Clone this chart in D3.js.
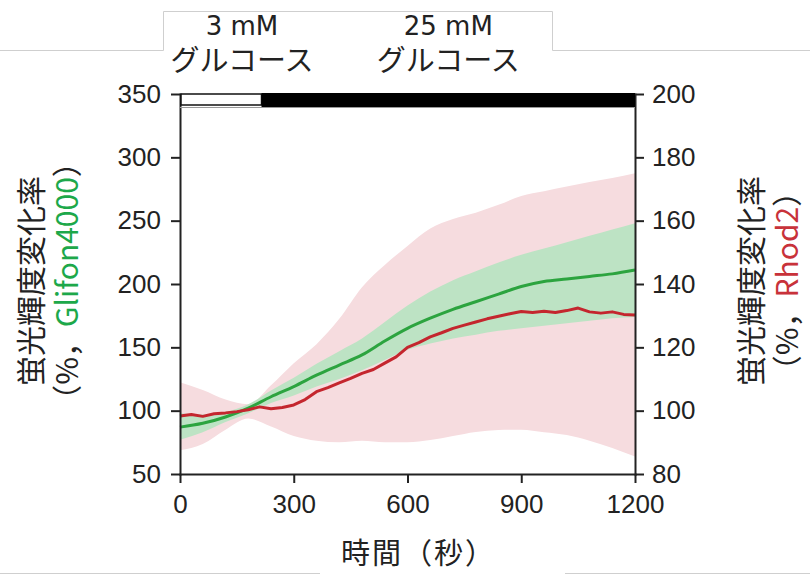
<!DOCTYPE html>
<html>
<head>
<meta charset="utf-8">
<script src="https://cdn.jsdelivr.net/npm/d3@7"></script>
<style>
body{margin:0;background:#fff;}
svg{display:block;}
.axis .tick text{font-family:"Liberation Sans",Arial,sans-serif;font-size:26px;fill:#222;}
.axis path,.axis line{stroke:#222;stroke-width:2;}
.jp{font-family:"Noto Sans CJK JP",sans-serif;fill:#222;}
.lat{font-family:"DejaVu Sans",sans-serif;fill:#222;}
</style>
</head>
<body>
<svg id="chart" width="810" height="576"></svg>
<script>
// time grid (s) for the bands and the Glifon4000 mean
const bandTime = [0, 60, 120, 180, 240, 300, 360, 420, 480, 540, 600, 660, 720, 780, 840, 900, 960, 1020, 1080, 1140, 1200];

// Glifon4000 (left axis, %)
const glifonMean  = [87, 90, 95, 102, 111, 119, 128, 136, 144, 155, 165, 173, 180, 186, 192, 198, 202, 204, 206, 208, 211];
const glifonUpper = [98, 97, 99, 105, 116, 126, 137, 147, 157, 170, 183, 194, 203, 210, 217, 223, 228, 233, 238, 243, 248];
const glifonLower = [77, 83, 91, 98, 106, 112, 119, 125, 132, 140, 148, 153, 157, 160, 163, 165, 167, 169, 171, 173, 174];

// Rhod2 band (right axis, %)
const rhodUpper = [109, 106.5, 103.5, 102, 108, 115, 121, 129, 139, 146, 152, 157.5, 160.5, 162.5, 165, 167.8, 169.3, 170.8, 172.2, 173.5, 175];
const rhodLower = [87.5, 89.5, 94, 97.5, 95, 92, 90.5, 90, 90.5, 90, 90, 90.7, 92, 93.3, 93.9, 94, 93.2, 92.3, 90.5, 88.2, 85.5];

// Rhod2 mean, finer grid
const rhodTime = [0, 30, 60, 90, 120, 150, 180, 210, 240, 270, 300, 330, 360, 390, 420, 450, 480, 510, 540, 570, 600,
                  630, 660, 690, 720, 750, 780, 810, 840, 870, 900, 930, 960, 990, 1020, 1050, 1080, 1110, 1140, 1170, 1200];
const rhodMean = [98.3, 98.8, 98.2, 99.0, 99.3, 99.7, 100.3, 101.2, 100.6, 101.0, 101.8, 103.5, 106.0, 107.3, 108.8, 110.2, 111.8, 113.0, 115.0, 117.0, 120.0,
                  121.5, 123.3, 124.6, 126.0, 127.0, 128.0, 129.0, 129.8, 130.6, 131.3, 131.0, 131.4, 131.0, 131.6, 132.4, 131.2, 130.8, 131.2, 130.4, 130.2];

// ticks
const xTicks = [0, 300, 600, 900, 1200];
const leftTicks = [50, 100, 150, 200, 250, 300, 350];
const rightTicks = [80, 100, 120, 140, 160, 180, 200];

// glucose condition bar
const glucoseLabels = ["3 mM", "25 mM"];
const glucoseStart = [0, 215];
const glucoseEnd = [215, 1200];

const svg = d3.select('#chart');

let x = d3.scaleLinear().domain([0, 1200]).range([180, 635]);
let yL = d3.scaleLinear().domain([50, 350]).range([474, 94]);
let yR = d3.scaleLinear().domain([80, 200]).range([474, 94]);

// faint edges of the pasted picture
const edge = svg.append('g').attr('stroke', '#cfcfcf').attr('fill', 'none').attr('stroke-width', 1);
edge.append('path').attr('d', 'M0,50.5H163.5V11.5H552.5V50.5H810');
edge.append('path').attr('d', 'M0,573.5H320M565,573.5H810');

//bands
let rhodBand = bandTime.map((t, i) => ({t: t, hi: rhodUpper[i], lo: rhodLower[i]}));
let glifonBand = bandTime.map((t, i) => ({t: t, hi: glifonUpper[i], lo: glifonLower[i]}));

svg.append('path')
    .datum(rhodBand)
    .attr('fill', '#f6dcdf')
    .attr('d', d3.area().curve(d3.curveMonotoneX)
        .x(d => x(d.t)).y0(d => yR(d.lo)).y1(d => yR(d.hi)));

svg.append('path')
    .datum(glifonBand)
    .attr('fill', '#bde3c4')
    .attr('d', d3.area().curve(d3.curveMonotoneX)
        .x(d => x(d.t)).y0(d => yL(d.lo)).y1(d => yL(d.hi)));

//lines
svg.append('path')
    .datum(bandTime.map((t, i) => [t, glifonMean[i]]))
    .attr('fill', 'none')
    .attr('stroke', '#2ca43f')
    .attr('stroke-width', 3)
    .attr('d', d3.line().curve(d3.curveMonotoneX).x(d => x(d[0])).y(d => yL(d[1])));

svg.append('path')
    .datum(rhodTime.map((t, i) => [t, rhodMean[i]]))
    .attr('fill', 'none')
    .attr('stroke', '#c4262e')
    .attr('stroke-width', 3)
    .attr('stroke-linejoin', 'round')
    .attr('d', d3.line().x(d => x(d[0])).y(d => yR(d[1])));

//axes
svg.append('g').attr('class', 'axis')
    .attr('transform', 'translate(0,474)')
    .call(d3.axisBottom(x).tickValues(xTicks).tickSize(9).tickSizeOuter(0).tickPadding(12).tickFormat(d3.format('d')));

svg.append('g').attr('class', 'axis')
    .attr('transform', 'translate(180,0)')
    .call(d3.axisLeft(yL).tickValues(leftTicks).tickSize(9).tickSizeOuter(0).tickPadding(10));

svg.append('g').attr('class', 'axis')
    .attr('transform', 'translate(635,0)')
    .call(d3.axisRight(yR).tickValues(rightTicks).tickSize(9).tickSizeOuter(0).tickPadding(8));

svg.selectAll('.axis .domain').attr('stroke-linecap', 'square');

// glucose bar on top of the frame
svg.append('line').attr('x1', 180).attr('x2', 635).attr('y1', 107.5).attr('y2', 107.5)
    .attr('stroke', '#999').attr('stroke-width', 1);

glucoseStart.forEach((s, i) => {
    let white = i == 0;
    svg.append('rect')
        .attr('x', x(s) + (white ? 1 : 0))
        .attr('y', white ? 94 : 93)
        .attr('width', x(glucoseEnd[i]) - x(s) - (white ? 1 : 0))
        .attr('height', white ? 11 : 14)
        .attr('fill', white ? '#fff' : '#000')
        .attr('stroke', white ? '#111' : 'none')
        .attr('stroke-width', 1.5);

    let cx = Math.max((x(s) + x(glucoseEnd[i])) / 2, x(0) + 62);
    svg.append('text').attr('class', 'lat')
        .attr('x', cx).attr('y', 35)
        .attr('text-anchor', 'middle')
        .style('font-size', '26px')
        .text(glucoseLabels[i]);
    svg.append('text').attr('class', 'jp')
        .attr('x', cx).attr('y', 71)
        .attr('text-anchor', 'middle')
        .style('font-size', '29px')
        .text('グルコース');
});

//labels
svg.append('text').attr('class', 'jp')
    .attr('x', 341).attr('y', 564)
    .style('font-size', '29px')
    .style('letter-spacing', '2px')
    .text('時間（秒）');

function yLabel(bx1, bx2, name, color){
    let g = svg.append('g');
    g.append('text').attr('class', 'jp')
        .attr('transform', `translate(${bx1},281) rotate(-90)`)
        .attr('text-anchor', 'middle')
        .style('font-size', '30px')
        .text('蛍光輝度変化率');
    let t = g.append('text').attr('class', 'jp')
        .attr('transform', `translate(${bx2},281) rotate(-90)`)
        .attr('text-anchor', 'middle')
        .style('font-size', '30px');
    t.append('tspan').text('（%，');
    t.append('tspan').style('fill', color).text(name);
    t.append('tspan').text('）');
}

yLabel(42, 78, 'Glifon4000', '#1da84a');
yLabel(762, 798, 'Rhod2', '#c8323a');
</script>
</body>
</html>
